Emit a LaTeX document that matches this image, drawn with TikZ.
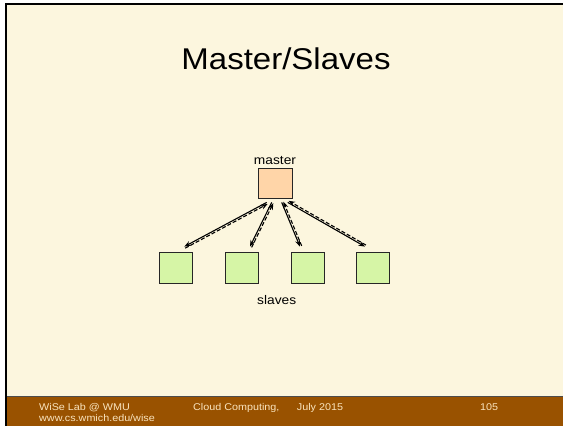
\documentclass[tikz,border=0pt]{standalone}
\usepackage{fontspec}
\setmainfont{Liberation Sans}[FakeStretch=1.1]
\usetikzlibrary{calc,arrows.meta}
\definecolor{slidebg}{RGB}{252,246,222}
\definecolor{barbrown}{RGB}{153,82,0}
\definecolor{foottext}{RGB}{250,228,190}
\definecolor{masterfill}{RGB}{255,213,168}
\definecolor{slavefill}{RGB}{214,245,166}
\tikzset{
  box/.style={draw=black!85, line width=0.8pt, minimum width=34pt, minimum height=31pt, inner sep=0pt},
  link/.style={line width=1.1pt, -{Stealth[length=6.5pt,width=5pt]}},
  back/.style={line width=1.1pt, dashed, dash pattern=on 4pt off 2pt, -{Stealth[length=6.5pt,width=5pt]}},
  foot/.style={text=foottext, font=\fontsize{9.8}{11.5}\selectfont, inner sep=0pt, align=left}
}
\begin{document}
\begin{tikzpicture}[x=1pt,y=-1pt]
\useasboundingbox (0,0) rectangle (563,426);
% page and frame
\fill[white] (0,0) rectangle (563,426);
\fill[slidebg] (6,4) rectangle (563,426);
\fill[barbrown] (6,397) rectangle (563,426);
\draw[black!70, line width=0.8pt] (6,396.6) -- (563,396.6);
\draw[black, line width=2pt] (6,426) -- (6,4) -- (563,4);
% title
\node[anchor=base, inner sep=0pt, font=\fontsize{30}{36}\selectfont] (title) at (286,69) {Master/Slaves};
% master and slaves
\node[box, fill=masterfill, minimum height=30pt] (master) at (275,183) {};
\node[anchor=base, inner sep=0pt, font=\fontsize{12.5}{15}\selectfont] (mlabel) at (275,164) {master};
\foreach \i/\x in {1/176, 2/241.7, 3/308, 4/373.3}
  \node[box, fill=slavefill, minimum width=33pt] (s\i) at (\x,267.5) {};
\node[anchor=base, inner sep=0pt, font=\fontsize{12.5}{15}\selectfont] (slabel) at (276.7,304) {slaves};
% request / reply pairs
\foreach \i/\dx/\sx in {1/-8.3/8.3, 2/-3.3/8.3, 3/6.7/-8, 4/12.7/-8.3} {
  \coordinate (t\i) at ($(master.south)+(\dx,4)$);
  \coordinate (b\i) at ($(s\i.north)+(\sx,-5)$);
  \draw[link] (t\i) -- (b\i);
  \draw[back] ($(b\i)!1.8pt!-90:(t\i)$) -- ($(t\i)!1.8pt!90:(b\i)$);
}
% footer
\node[foot, anchor=base west] (lab) at (39,421.5) {WiSe Lab @ WMU\\www.cs.wmich.edu/wise};
\node[foot, anchor=base west] (course) at (193,410) {Cloud Computing,};
\node[foot, anchor=base west] (date) at (296.7,410) {July 2015};
\node[foot, anchor=base west] (page) at (480,410) {105};
\end{tikzpicture}
\end{document}
